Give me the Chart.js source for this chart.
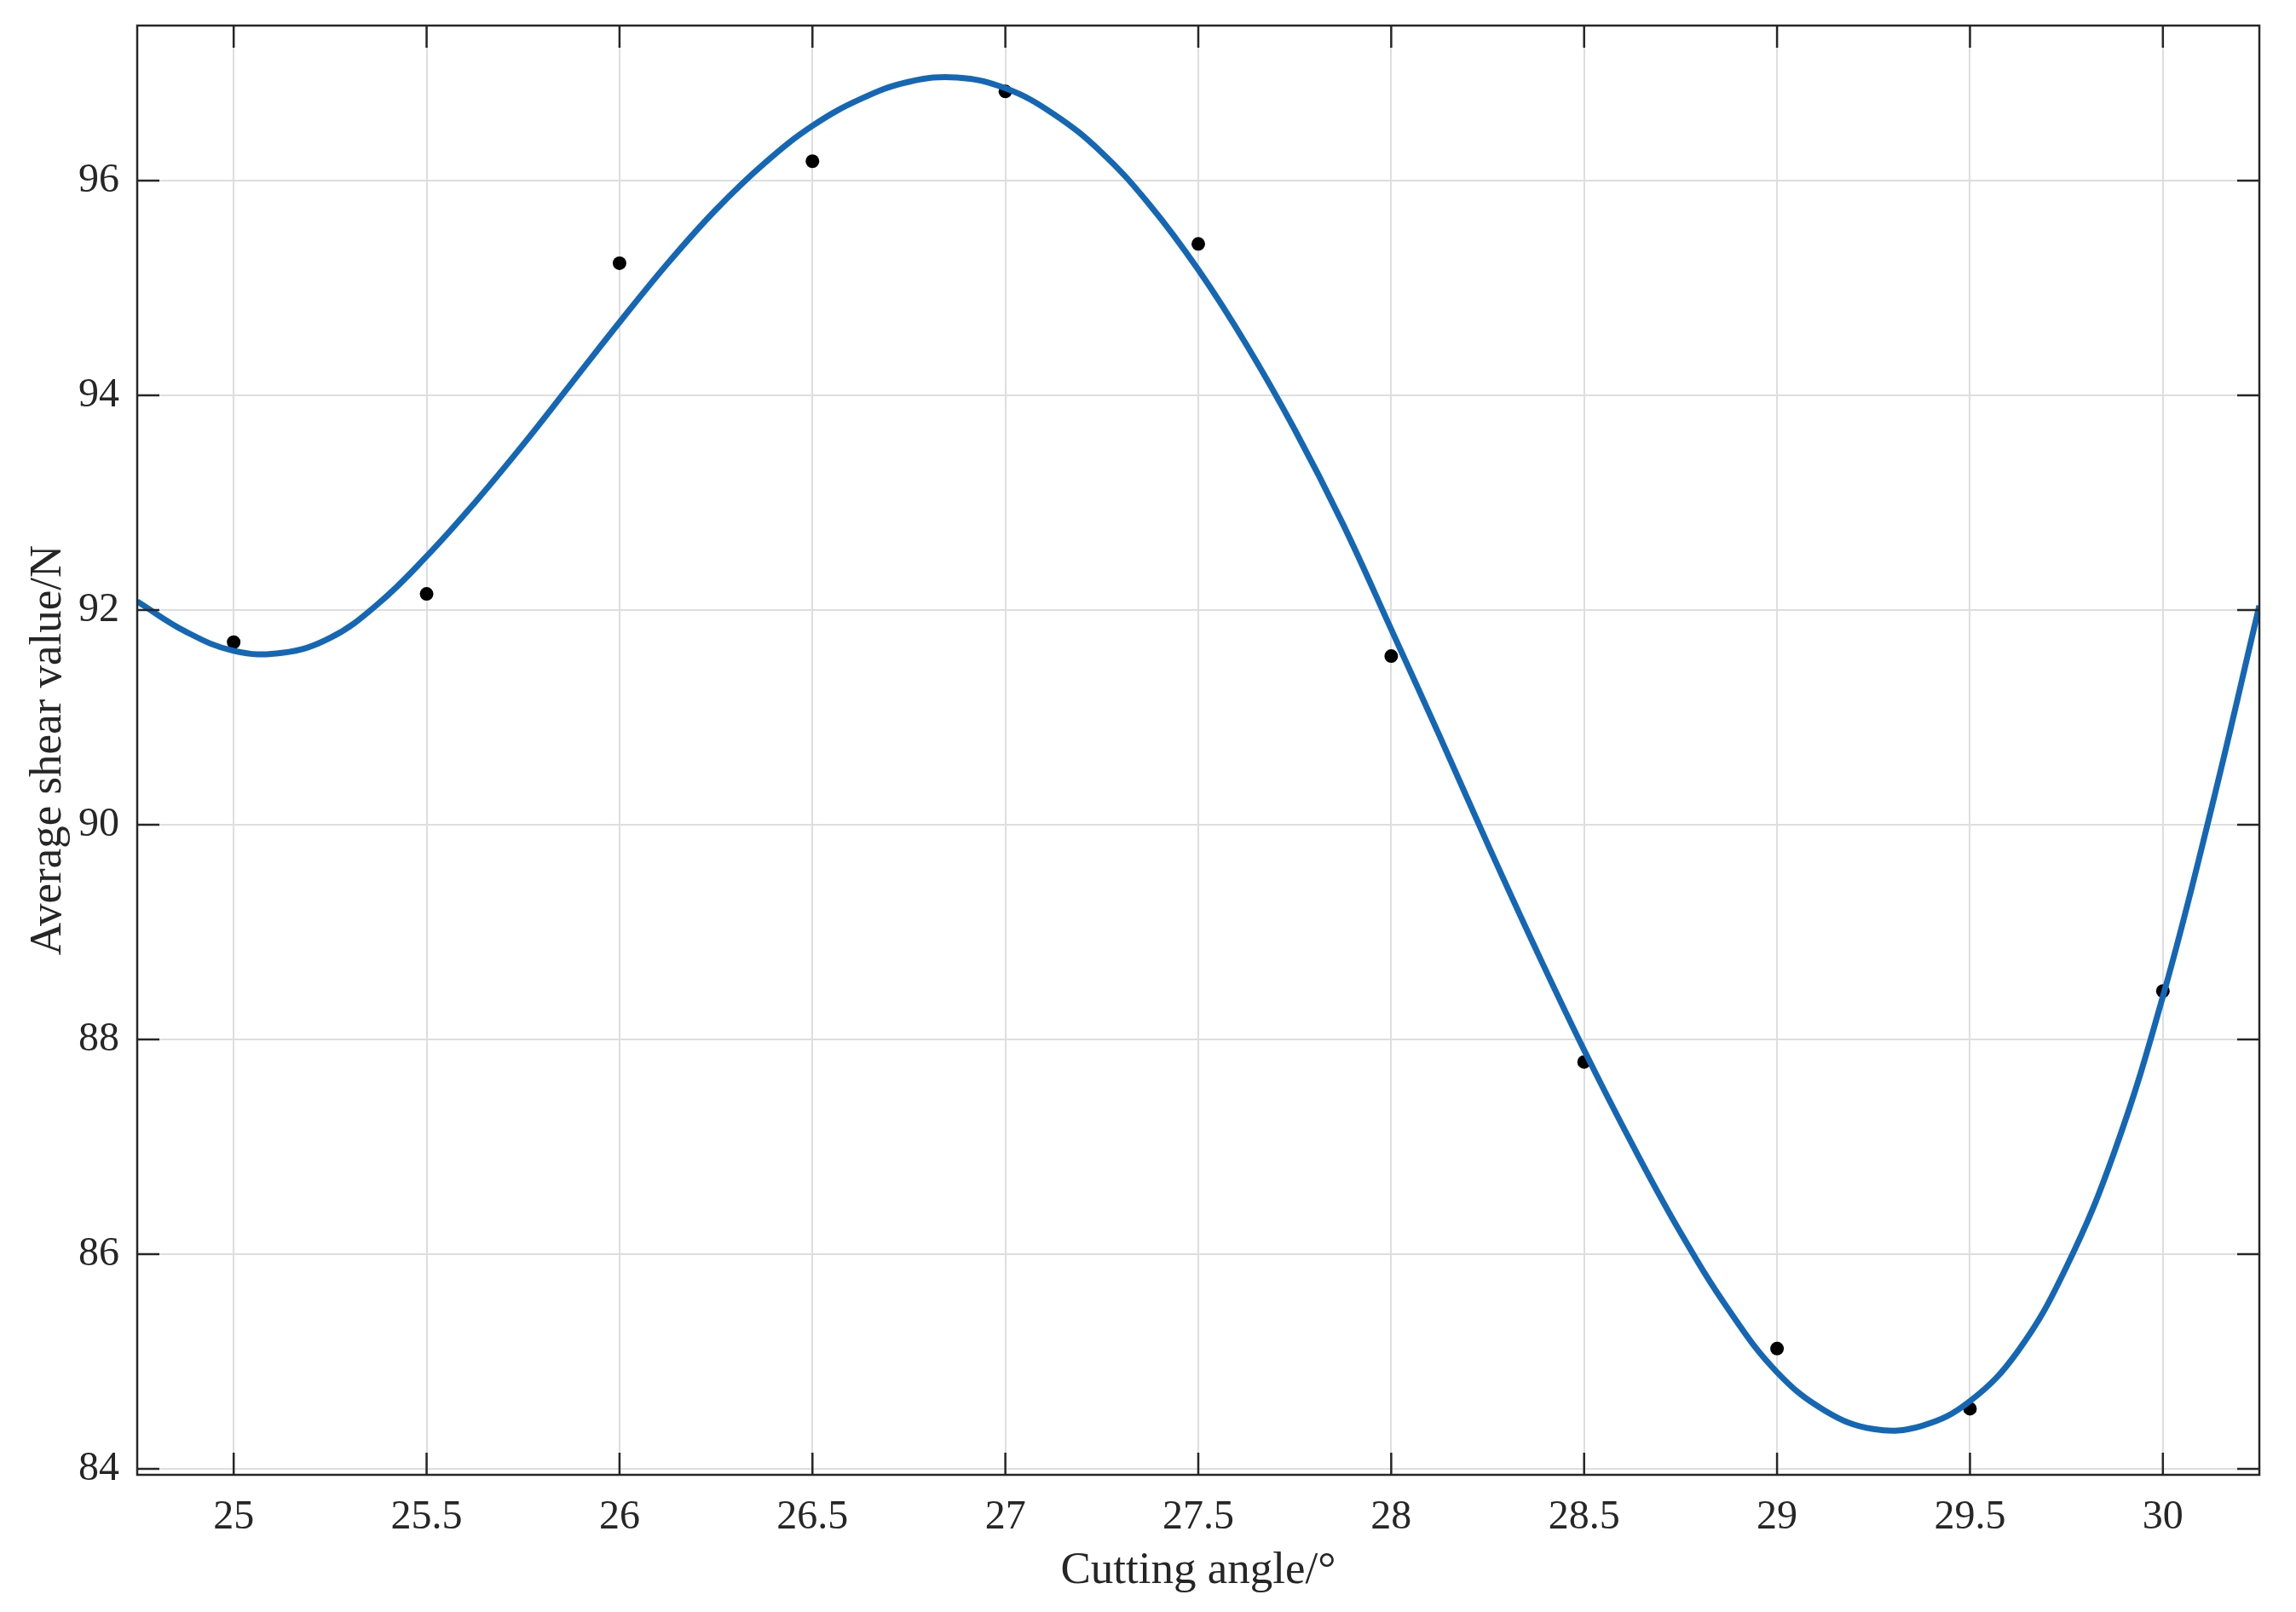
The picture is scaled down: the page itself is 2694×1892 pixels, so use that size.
<!DOCTYPE html>
<html>
<head>
<meta charset="utf-8">
<title>Average shear value vs cutting angle</title>
<script src="https://cdn.jsdelivr.net/npm/chart.js@4"></script>
<style>
  html, body { margin: 0; padding: 0; background: #fff; }
  #wrap { width: 2694px; height: 1892px; position: relative; }
</style>
</head>
<body>
<div id="wrap"><canvas id="shearChart"></canvas></div>
<script>
// measured points
const angles = [25, 25.5, 26, 26.5, 27, 27.5, 28, 28.5, 29, 29.5, 30];
const shearMeans = [91.70, 92.15, 95.23, 96.18, 96.83, 95.41, 91.57, 87.79, 85.12, 84.56, 88.45];

// fitted curve, every 0.125
const fitAngles = [24.75, 24.875, 25, 25.125, 25.25, 25.375, 25.5, 25.625, 25.75, 25.875,
  26, 26.125, 26.25, 26.375, 26.5, 26.625, 26.75, 26.875, 27, 27.125, 27.25, 27.375,
  27.5, 27.625, 27.75, 27.875, 28, 28.125, 28.25, 28.375, 28.5, 28.625, 28.75, 28.875,
  29, 29.125, 29.25, 29.375, 29.5, 29.625, 29.75, 29.875, 30, 30.125, 30.25];
const fitValues = [92.08, 91.80, 91.62, 91.60, 91.74, 92.06, 92.50, 93.00, 93.54, 94.11,
  94.68, 95.23, 95.73, 96.16, 96.51, 96.76, 96.92, 96.96, 96.86, 96.62, 96.26, 95.77,
  95.17, 94.47, 93.68, 92.80, 91.82, 90.83, 89.82, 88.84, 87.90, 87.02, 86.20, 85.48,
  84.90, 84.54, 84.37, 84.40, 84.63, 85.10, 85.88, 86.96, 88.40, 90.14, 92.04];

// axis ticks
const xTicks = [25, 25.5, 26, 26.5, 27, 27.5, 28, 28.5, 29, 29.5, 30];
const yTicks = [84, 86, 88, 90, 92, 94, 96];

const ink = "#262626";
const serif = "'Liberation Serif', 'Times New Roman', serif";

// MATLAB-like box with inward ticks on all four sides
const boxPlugin = {
  id: "boxTicks",
  afterDatasetsDraw(chart) {
    const { ctx, chartArea: a, scales } = chart;
    const len = 26;
    ctx.save();
    ctx.strokeStyle = ink;
    ctx.lineWidth = 2.5;
    ctx.beginPath();
    xTicks.forEach(v => {
      const px = scales.x.getPixelForValue(v);
      ctx.moveTo(px, a.bottom); ctx.lineTo(px, a.bottom - len);
      ctx.moveTo(px, a.top); ctx.lineTo(px, a.top + len);
    });
    yTicks.forEach(v => {
      const py = scales.y.getPixelForValue(v);
      ctx.moveTo(a.left, py); ctx.lineTo(a.left + len, py);
      ctx.moveTo(a.right, py); ctx.lineTo(a.right - len, py);
    });
    ctx.stroke();
    ctx.strokeRect(a.left, a.top, a.right - a.left, a.bottom - a.top);
    ctx.restore();
  }
};

const ctx = document.getElementById("shearChart").getContext("2d");
new Chart(ctx, {
  type: "scatter",
  data: {
    datasets: [
      {
        label: "Fit",
        data: fitAngles.map((x, i) => ({ x, y: fitValues[i] })),
        showLine: true,
        borderColor: "#1467b4",
        borderWidth: 7,
        pointRadius: 0,
        tension: 0.4,
        order: 0
      },
      {
        label: "Measured",
        data: angles.map((x, i) => ({ x, y: shearMeans[i] })),
        backgroundColor: "#000",
        borderColor: "#000",
        pointRadius: 8,
        pointBorderWidth: 0,
        order: 1
      }
    ]
  },
  options: {
    responsive: true,
    maintainAspectRatio: false,
    animation: false,
    layout: { padding: { top: 30, right: 43, left: 0, bottom: 0 } },
    plugins: { legend: { display: false }, tooltip: { enabled: false } },
    scales: {
      x: {
        type: "linear",
        min: 24.75,
        max: 30.25,
        afterBuildTicks: s => { s.ticks = xTicks.map(v => ({ value: v })); },
        afterFit: s => { s.height = 161; s.paddingLeft = 0; s.paddingRight = 0; },
        grid: { color: "#dedede", lineWidth: 2, drawTicks: false },
        border: { display: false },
        ticks: {
          padding: 22,
          color: ink,
          font: { family: serif, size: 48 },
          maxRotation: 0,
          callback: v => String(v)
        },
        title: {
          display: true,
          text: "Cutting angle/°",
          color: ink,
          font: { family: serif, size: 53 },
          padding: { top: 0, bottom: 16 }
        }
      },
      y: {
        type: "linear",
        min: 83.944,
        max: 97.444,
        afterBuildTicks: s => { s.ticks = yTicks.map(v => ({ value: v })); },
        afterFit: s => { s.width = 161; s.paddingTop = 0; s.paddingBottom = 0; },
        grid: { color: "#dedede", lineWidth: 2, drawTicks: false },
        border: { display: false },
        ticks: {
          padding: 21,
          color: ink,
          font: { family: serif, size: 48 },
          callback: v => String(v)
        },
        title: {
          display: true,
          text: "Average shear value/N",
          color: ink,
          font: { family: serif, size: 53 },
          padding: { top: 25, bottom: 0 }
        }
      }
    }
  },
  plugins: [boxPlugin]
});
</script>
</body>
</html>
